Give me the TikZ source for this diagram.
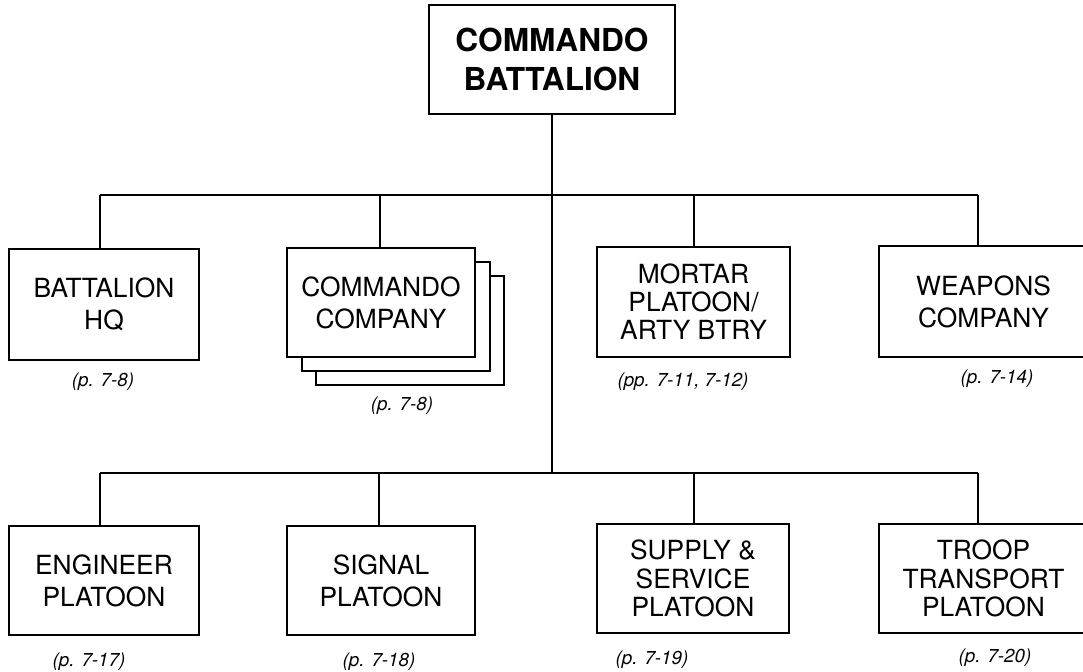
\documentclass[tikz,border=0pt]{standalone}
\usepackage{fontspec}
\setmainfont{TeX Gyre Heros}
\usetikzlibrary{positioning}

\begin{document}
\begin{tikzpicture}[x=0.03cm,y=-0.03cm,line width=2pt,
  unit/.style={draw,fill=white,align=center,inner sep=0pt,font=\fontsize{22.5}{27.5}\selectfont},
  unit3/.style={unit,font=\fontsize{22.5}{24}\selectfont},
  pageref/.style={inner sep=0pt,font=\fontsize{16}{19}\selectfont\itshape}]
\useasboundingbox (0,0) rectangle (1083,672);
\node[draw,align=center,minimum width=7.38cm,minimum height=3.27cm,font=\fontsize{27}{32.5}\selectfont\bfseries] (bn) at (552,59.5) {COMMANDO\\BATTALION};
% stacked copies behind the company
\draw[fill=white] (316,276) rectangle (504,385);
\draw[fill=white] (302,262) rectangle (490,371);
% first row
\node[unit,minimum width=5.7cm,minimum height=3.33cm] (hq) at (104,304.5) {BATTALION\\HQ};
\node[unit,minimum width=5.64cm,minimum height=3.27cm] (cc) at (381,302.5) {COMMANDO\\COMPANY};
\node[unit3,minimum width=5.79cm,minimum height=3.3cm] (mort) at (693.5,302) {MORTAR\\PLATOON/\\ARTY BTRY};
\node[unit,minimum width=6.27cm,minimum height=3.33cm] (wpn) at (983.5,301.5) {WEAPONS\\COMPANY};
% second row
\node[unit,minimum width=5.7cm,minimum height=3.27cm] (eng) at (104,580.5) {ENGINEER\\PLATOON};
\node[unit,minimum width=5.64cm,minimum height=3.27cm] (sig) at (381,580.5) {SIGNAL\\PLATOON};
\node[unit3,minimum width=5.76cm,minimum height=3.27cm] (sup) at (693,578.5) {SUPPLY \&\\SERVICE\\PLATOON};
\node[unit3,minimum width=6.27cm,minimum height=3.27cm] (trp) at (983.5,578.5) {TROOP\\TRANSPORT\\PLATOON};
% page references
\node[pageref] (hqref) at (103,382) {(p. 7-8)};
\node[pageref] (ccref) at (402,406) {(p. 7-8)};
\node[pageref] (mortref) at (683,382) {(pp. 7-11, 7-12)};
\node[pageref] (wpnref) at (997,379) {(p. 7-14)};
\node[pageref] (engref) at (89,662) {(p. 7-17)};
\node[pageref] (sigref) at (379,662) {(p. 7-18)};
\node[pageref] (supref) at (652,660) {(p. 7-19)};
\node[pageref] (trpref) at (995,658) {(p. 7-20)};
% lines
\coordinate (r1) at (552,195);
\coordinate (r2) at (552,473);
\coordinate (a1) at (100,195);
\coordinate (a2) at (380,195);
\coordinate (a3) at (694,195);
\coordinate (a4) at (978,195);
\coordinate (b1) at (100,473);
\coordinate (b2) at (379,473);
\coordinate (b3) at (694,473);
\coordinate (b4) at (978,473);
\draw (bn.south -| r1) -- (r2);
\draw (a1) -- (a4);
\draw (b1) -- (b4);
\draw (a1) -- (a1 |- hq.north);
\draw (a2) -- (a2 |- cc.north);
\draw (a3) -- (a3 |- mort.north);
\draw (a4) -- (a4 |- wpn.north);
\draw (b1) -- (b1 |- eng.north);
\draw (b2) -- (b2 |- sig.north);
\draw (b3) -- (b3 |- sup.north);
\draw (b4) -- (b4 |- trp.north);
\end{tikzpicture}
\end{document}
